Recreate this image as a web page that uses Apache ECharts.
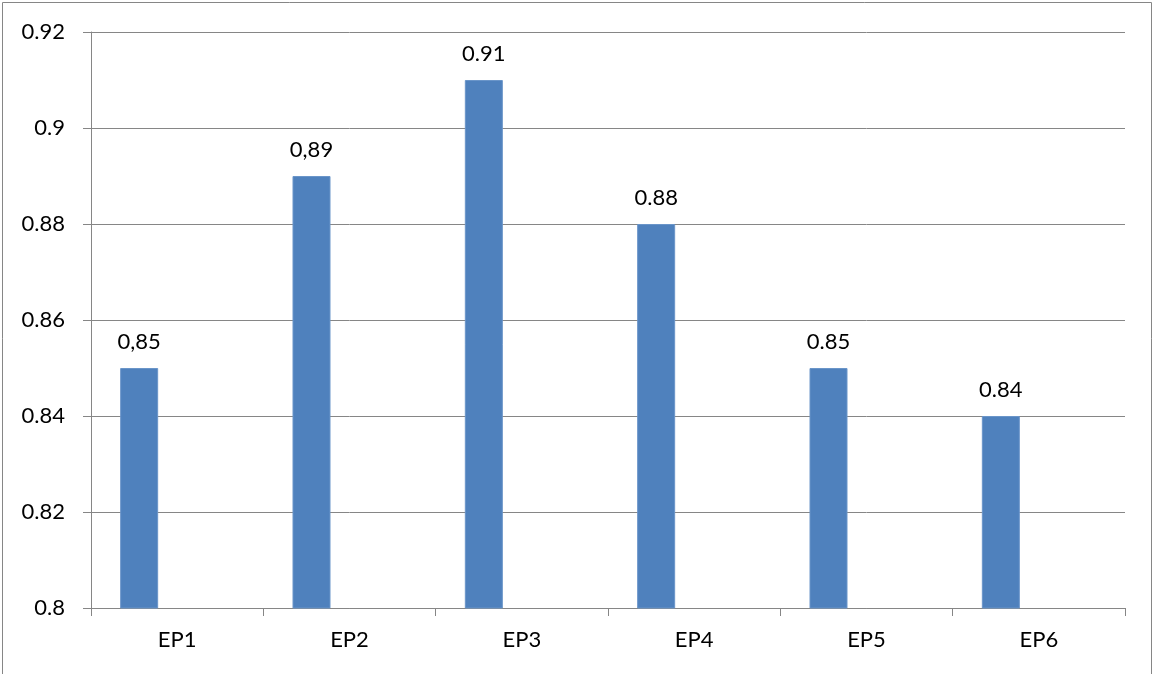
<!DOCTYPE html>
<html>
<head>
<meta charset="utf-8">
<title>EP</title>
<script src="https://cdn.jsdelivr.net/npm/echarts@6/dist/echarts.min.js"></script>
<style>
  html, body { margin: 0; padding: 0; background: #ffffff; }
  #chart { width: 1154px; height: 674px; }
</style>
</head>
<body>
<div id="chart"></div>
<script>
// Categories and values
const categories = ['EP1', 'EP2', 'EP3', 'EP4', 'EP5', 'EP6'];
const values = [0.85, 0.89, 0.91, 0.88, 0.85, 0.84];
// Decimal separator shown in each data label
const labelSeparators = [',', ',', '.', '.', '.', '.'];
// Two further series in the cluster carry no values
const series2Values = [];
const series3Values = [];
// Value axis ticks
const yMin = 0.8;
const yMax = 0.92;
const yStep = 0.02;

const FONT = 'Lato, "Open Sans", sans-serif';
const GRAY = '#868686';

const chart = echarts.init(document.getElementById('chart'), null, { renderer: 'canvas' });

chart.setOption({
  animation: false,
  backgroundColor: '#ffffff',
  graphic: [{
    type: 'rect',
    shape: { x: 2.5, y: 2.5, width: 1149, height: 700 },
    style: { fill: 'none', stroke: GRAY, lineWidth: 1 },
    silent: true
  }],
  grid: { left: 91, right: 29, top: 32, bottom: 66, containLabel: false },
  xAxis: {
    type: 'category',
    data: categories,
    axisLine: { show: true, lineStyle: { color: GRAY, width: 1 } },
    axisTick: { show: true, alignWithLabel: false, length: 8, lineStyle: { color: GRAY } },
    axisLabel: { color: '#000', fontFamily: FONT, fontSize: 22, margin: 21 },
    splitLine: { show: false }
  },
  yAxis: {
    type: 'value',
    min: yMin,
    max: yMax,
    interval: yStep,
    axisLine: { show: true, lineStyle: { color: GRAY, width: 1 } },
    axisTick: { show: true, length: 8, lineStyle: { color: GRAY } },
    axisLabel: { color: '#000', fontFamily: FONT, fontSize: 22, margin: 26 },
    splitLine: { show: true, lineStyle: { color: GRAY, width: 1 } }
  },
  series: [
    {
      name: 'Série 1',
      type: 'bar',
      data: values,
      barWidth: 38,
      barGap: '0%',
      itemStyle: { color: '#4F81BD', borderColor: '#6a95c9', borderWidth: 1 },
      label: {
        show: true,
        position: 'top',
        distance: 15,
        color: '#000',
        fontFamily: FONT,
        fontSize: 22,
        formatter: p => p.value.toFixed(2).replace('.', labelSeparators[p.dataIndex])
      }
    },
    { name: 'Série 2', type: 'bar', data: series2Values, barWidth: 38, barGap: '0%' },
    { name: 'Série 3', type: 'bar', data: series3Values, barWidth: 38, barGap: '0%' }
  ]
});
</script>
</body>
</html>
